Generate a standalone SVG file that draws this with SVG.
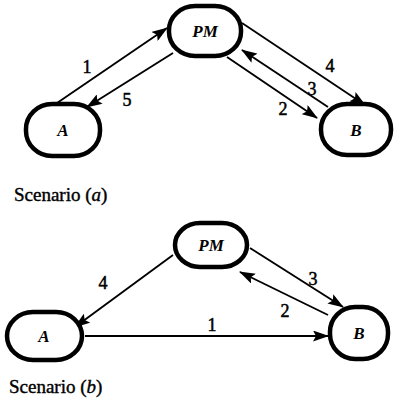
<svg xmlns="http://www.w3.org/2000/svg" width="398" height="402" viewBox="0 0 398 402">
<style>
.node{fill:#fff;stroke:#000;stroke-width:4.5}
.nl{font-family:"Liberation Serif",serif;font-weight:bold;font-style:italic;font-size:17px;text-anchor:middle}
.el{font-family:"Liberation Serif",serif;font-size:18px;text-anchor:middle;stroke:#000;stroke-width:0.5}
.cap{font-family:"Liberation Serif",serif;font-size:19px;stroke:#000;stroke-width:0.4}
.edge{stroke:#000;stroke-width:1.9;fill:none;marker-end:url(#ah)}
</style>
<defs>
<marker id="ah" viewBox="0 0 16 11" refX="15" refY="5.5" markerWidth="16" markerHeight="11" markerUnits="userSpaceOnUse" orient="auto">
<path d="M0,0 L16,5.5 L0,11 L3,5.5 Z" fill="#000"/>
</marker>
</defs>
<g id="connectors">
<line class="edge" x1="57" y1="103" x2="167" y2="28"/>
<line class="edge" x1="173" y1="53" x2="87" y2="107"/>
<line class="edge" x1="227" y1="57" x2="317" y2="118"/>
<line class="edge" x1="328" y1="107" x2="242" y2="50"/>
<line class="edge" x1="242" y1="23" x2="365" y2="105"/>
<text class="el" x="87" y="73">1</text>
<text class="el" x="127" y="106">5</text>
<text class="el" x="330" y="72">4</text>
<text class="el" x="312" y="95">3</text>
<text class="el" x="283" y="115">2</text>
<line class="edge" x1="173" y1="255" x2="75" y2="327"/>
<line class="edge" x1="85" y1="336" x2="328" y2="336"/>
<line class="edge" x1="328" y1="315" x2="240" y2="272"/>
<line class="edge" x1="250" y1="248" x2="343" y2="307"/>
<text class="el" x="103" y="289">4</text>
<text class="el" x="212" y="331">1</text>
<text class="el" x="285" y="317">2</text>
<text class="el" x="313" y="285">3</text>
</g>
<g id="PMa"><rect class="node" x="169" y="6" width="72" height="50" rx="26" ry="24"/><text class="nl" x="205" y="37">PM</text></g>
<g id="Aa"><rect class="node" x="26" y="104" width="74" height="52" rx="26" ry="25"/><text class="nl" x="63" y="136">A</text></g>
<g id="Ba"><rect class="node" x="321" y="104" width="70" height="51" rx="26" ry="25"/><text class="nl" x="356" y="136">B</text></g>
<text class="cap" x="14" y="201">Scenario (<tspan font-style="italic">a</tspan>)</text>
<g id="PMb"><rect class="node" x="175" y="223" width="72" height="44" rx="25" ry="22"/><text class="nl" x="211" y="251">PM</text></g>
<g id="Ab"><rect class="node" x="7" y="312" width="75" height="48" rx="26" ry="24"/><text class="nl" x="44" y="342">A</text></g>
<g id="Bb"><rect class="node" x="330" y="307" width="58" height="52" rx="25" ry="25"/><text class="nl" x="359" y="339">B</text></g>
<text class="cap" x="9" y="393">Scenario (<tspan font-style="italic">b</tspan>)</text>
</svg>
